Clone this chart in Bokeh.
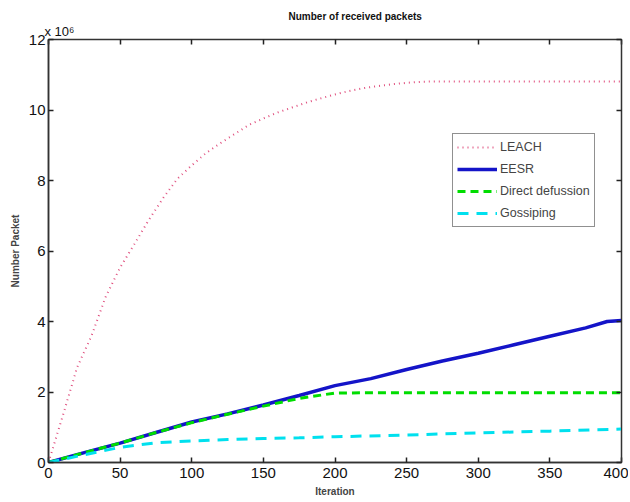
from bokeh.plotting import figure
from bokeh.models import (Range1d, LinearAxis, Legend, LegendItem, Title, FixedTicker,
                          CustomJSTickFormatter)
from bokeh.embed import file_html
from bokeh.resources import INLINE

# ---- data (values in units of 10^6 packets) ----
leach_x = [0, 10, 20, 30, 40, 50, 60, 70, 80, 90, 100, 110, 120, 130, 140, 150, 160, 170,
           180, 190, 200, 210, 220, 230, 240, 250, 260, 270, 300, 350, 400]
leach_y = [0, 1.33, 2.7, 3.59, 4.71, 5.53, 6.2, 6.88, 7.5, 8.05, 8.43, 8.78, 9.06, 9.32,
           9.58, 9.76, 9.93, 10.07, 10.21, 10.33, 10.44, 10.54, 10.62, 10.68, 10.73, 10.77,
           10.8, 10.81, 10.81, 10.81, 10.81]

eesr_x = [0, 25, 50, 75, 100, 125, 150, 175, 200, 225, 250, 275, 300, 325, 350, 375, 390, 400]
eesr_y = [0, 0.28, 0.55, 0.85, 1.15, 1.38, 1.63, 1.9, 2.18, 2.38, 2.64, 2.88, 3.1, 3.34,
          3.58, 3.82, 4.0, 4.03]

direct_x = [0, 25, 50, 75, 100, 125, 150, 175, 200, 225, 300, 400]
direct_y = [0, 0.28, 0.55, 0.85, 1.13, 1.37, 1.6, 1.82, 1.97, 1.98, 1.98, 1.98]

gossip_x = [0, 25, 50, 75, 100, 125, 150, 175, 200, 250, 300, 350, 400]
gossip_y = [0, 0.22, 0.43, 0.56, 0.61, 0.65, 0.68, 0.7, 0.73, 0.78, 0.84, 0.89, 0.95]

x_ticks = [0, 50, 100, 150, 200, 250, 300, 350, 400]
y_ticks = [0, 2, 4, 6, 8, 10, 12]

series_names = ["LEACH", "EESR", "Direct defussion", "Gossiping"]
title_text = "Number of received packets"
exponent_text = "x 10\u2076"

FONT = "Liberation Sans Narrow, Liberation Sans"

p = figure(width=628, height=500, output_backend="svg", toolbar_location=None,
           x_range=Range1d(0, 400), y_range=Range1d(0, 12),
           min_border_left=48, min_border_right=7, min_border_top=39, min_border_bottom=38,
           x_axis_label="Iteration", y_axis_label="Number Packet")
p.title.visible = False

p.xgrid.visible = False
p.ygrid.visible = False
p.outline_line_color = "#333333"
p.outline_line_width = 1.5
p.background_fill_color = "white"
p.border_fill_color = "white"

for ax in (p.xaxis[0], p.yaxis[0]):
    ax.axis_line_color = "#333333"
    ax.axis_line_width = 1.5
    ax.major_tick_in = 5
    ax.major_tick_out = 0
    ax.minor_tick_line_color = None
    ax.major_tick_line_color = "#222222"
    ax.major_tick_line_width = 1.5
    ax.major_label_text_font = FONT
    ax.major_label_text_font_size = "15px"
    ax.major_label_text_color = "#111111"
    ax.axis_label_text_font = "Liberation Sans"
    ax.axis_label_text_font_size = "10px"
    ax.axis_label_text_font_style = "bold"

p.xaxis[0].ticker = FixedTicker(ticks=x_ticks)
p.yaxis[0].ticker = FixedTicker(ticks=y_ticks)
p.xaxis[0].major_label_standoff = 5
p.xaxis[0].axis_label_standoff = 5
p.yaxis[0].major_label_standoff = 3
p.yaxis[0].axis_label_standoff = 5

blank = CustomJSTickFormatter(code="return ''")
top = LinearAxis(ticker=FixedTicker(ticks=x_ticks), formatter=blank,
                 major_tick_in=5, major_tick_out=0, minor_tick_line_color=None,
                 axis_line_color="#333333", major_tick_line_color="#222222",
                 major_tick_line_width=1.5, major_label_standoff=0, axis_label_standoff=0)
right = LinearAxis(ticker=FixedTicker(ticks=y_ticks), formatter=blank,
                   major_tick_in=5, major_tick_out=0, minor_tick_line_color=None,
                   axis_line_color="#333333", major_tick_line_color="#222222",
                   major_tick_line_width=1.5, major_label_standoff=0, axis_label_standoff=0)
p.add_layout(top, "above")
p.add_layout(right, "right")

p.add_layout(Title(text=exponent_text, align="left", offset=-4, text_font=FONT,
                   text_font_size="13px", text_font_style="normal", text_color="#111111",
                   standoff=1), "above")
p.add_layout(Title(text=title_text, align="left", offset=240, text_font="Liberation Sans",
                   text_font_size="10px", text_font_style="bold", text_color="#111111",
                   standoff=0), "above")

r1 = p.line(leach_x, leach_y, line_color="#e0507f", line_width=2, line_dash="1 4")
r2 = p.line(eesr_x, eesr_y, line_color="#1414c8", line_width=3.5)
r3 = p.line(direct_x, direct_y, line_color="#00dd00", line_width=3, line_dash="8 5")
r4 = p.line(gossip_x, gossip_y, line_color="#00e0ee", line_width=3, line_dash="11 8")

legend = Legend(items=[LegendItem(label=series_names[0], renderers=[r1]),
                       LegendItem(label=series_names[1], renderers=[r2]),
                       LegendItem(label=series_names[2], renderers=[r3]),
                       LegendItem(label=series_names[3], renderers=[r4])],
                location=(404, 235))
legend.border_line_color = "#222222"
legend.border_line_width = 1
legend.background_fill_color = "white"
legend.background_fill_alpha = 1
legend.label_text_font = FONT
legend.label_text_font_size = "12.5px"
legend.label_standoff = 3
legend.glyph_width = 40
legend.glyph_height = 18
legend.label_height = 18
legend.spacing = 4
legend.padding = 4
legend.margin = 0
p.add_layout(legend, "center")

open("out.html", "w").write(file_html(p, INLINE))
